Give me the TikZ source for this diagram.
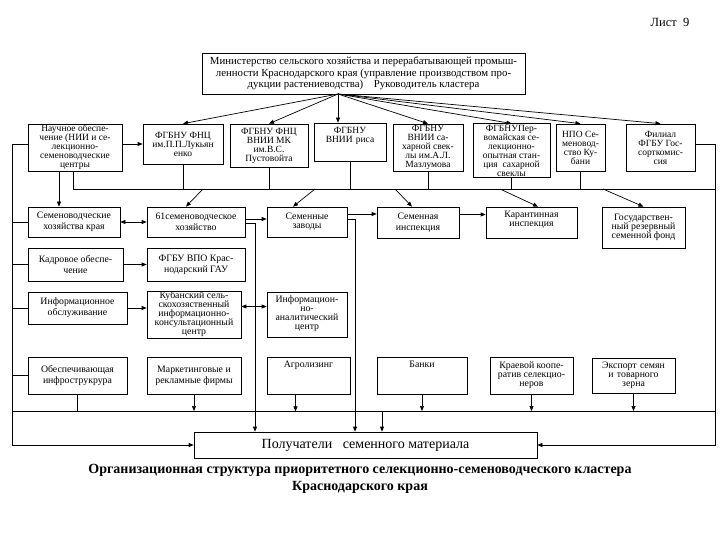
\documentclass[tikz,border=0pt]{standalone}
\usepackage{fontspec}
\setmainfont{Liberation Serif}
\usetikzlibrary{arrows.meta, calc}
\tikzset{
  every picture/.style={line width=0.7pt, x=1pt, y=-1pt},
  box/.style={draw, align=center, inner sep=1pt, font=\fontsize{9.8}{11}\selectfont},
  tight/.style={font=\fontsize{9.8}{9}\selectfont},
  sbox/.style={box, font=\fontsize{9.5}{9}\selectfont},
  tbox/.style={inner ysep=4pt, text height=6.5pt, text depth=#1},
  arrow/.style={-{Triangle[length=5pt, width=4pt]}},
  darrow/.style={{Triangle[length=5pt, width=4pt]}-{Triangle[length=5pt, width=4pt]}},
}
\begin{document}
\begin{tikzpicture}
  \useasboundingbox (0,0) rectangle (720,540);
  \node[font=\fontsize{12.5}{14}\selectfont] (list) at (670,22) {Лист~~9};
  \node[box, minimum width=323, minimum height=41, font=\fontsize{10.8}{11.6}\selectfont] (min) at (363.5,73.5) {Министерство сельского хозяйства и перерабатывающей промыш-\\ленности Краснодарского края (управление производством про-\\дукции растениеводства)\quad Руководитель кластера};
  \coordinate (hub) at (338,94);
  \node[sbox, minimum width=94, minimum height=47] (nauch) at (75,147.5) {Научное обеспе-\\чение (НИИ и се-\\лекционно-\\семеноводческие\\центры};
  \node[sbox, minimum width=80, minimum height=40] (luk) at (183,144) {ФГБНУ ФНЦ\\им.П.П.Лукьян\\енко};
  \node[sbox, minimum width=78, minimum height=43] (pust) at (269,145.5) {ФГБНУ ФНЦ\\ВНИИ МК\\им.В.С.\\Пустовойта};
  \node[sbox, tbox=23.5pt, text width=66, minimum width=72, minimum height=38] (ris) at (350,142) {ФГБНУ\\ВНИИ риса};
  \node[sbox, minimum width=70, minimum height=47] (mazl) at (428,147.5) {ФГБНУ\\ВНИИ са-\\харной свек-\\лы им.А.Л.\\Мазлумова};
  \node[sbox, minimum width=77, minimum height=53] (perv) at (511.5,150.5) {ФГБНУПер-\\вомайская се-\\лекционно-\\опытная стан-\\ция~~сахарной\\свеклы};
  \node[sbox, minimum width=49, minimum height=47] (npo) at (580.5,147.5) {НПО Се-\\меновод-\\ство Ку-\\бани};
  \node[sbox, minimum width=69, minimum height=47] (fil) at (660.5,147.5) {Филиал\\ФГБУ Гос-\\сорткомис-\\сия};
  \node[box, minimum width=92, minimum height=30] (shk) at (74,222) {Семеноводческие\\хозяйства края};
  \node[box, minimum width=98, minimum height=30] (sh61) at (196,222) {61семеноводческое\\хозяйство};
  \node[box, tight, minimum width=80, minimum height=30] (zav) at (307,222) {Семенные\\заводы};
  \node[box, minimum width=82, minimum height=31] (insp) at (418,222.5) {Семенная\\инспекция};
  \node[box, tight, tbox=16.5pt, text width=85, minimum width=91, minimum height=31] (karant) at (531.5,222.5) {Карантинная\\инспекция};
  \node[box, tight, minimum width=83, minimum height=41] (gos) at (643.5,227.5) {Государствен-\\ный резервный\\семенной фонд};
  \node[box, minimum width=95, minimum height=33] (kadr) at (75.5,264.5) {Кадровое обеспе-\\чение};
  \node[box, minimum width=98, minimum height=33] (gau) at (196,264.5) {ФГБУ ВПО Крас-\\нодарский ГАУ};
  \node[box, minimum width=99, minimum height=32] (inf) at (77.5,308) {Информационное\\обслуживание};
  \node[box, tight, minimum width=94, minimum height=45] (kub) at (194,314.5) {Кубанский сель-\\скохозяственный\\информационно-\\консультационный\\центр};
  \node[box, tight, tbox=30.5pt, text width=74, minimum width=80, minimum height=45] (anal) at (307,314.5) {Информацион-\\но-\\аналитический\\центр};
  \node[box, minimum width=99, minimum height=37] (obesp) at (77.5,375.5) {Обеспечивающая\\инфрострукрура};
  \node[box, minimum width=94, minimum height=37] (mark) at (194,375.5) {Маркетинговые и\\рекламные фирмы};
  \node[box, tbox=22.5pt, text width=77, minimum width=83, minimum height=37] (agro) at (308.5,375.5) {Агролизинг};
  \node[box, tbox=22.5pt, text width=84, minimum width=90, minimum height=37] (bank) at (422,375.5) {Банки};
  \node[box, tight, minimum width=83, minimum height=37] (koop) at (531.5,375.5) {Краевой коопе-\\ратив селекцио-\\неров};
  \node[box, tight, tbox=20.5pt, text width=77, minimum width=83, minimum height=35] (eksp) at (633.5,375.5) {Экспорт семян\\и товарного\\зерна};
  \node[box, minimum width=343, minimum height=26, font=\fontsize{14}{16}\selectfont] (poluch) at (365.5,445) {Получатели~~~семенного материала};
  \node[align=center, font=\bfseries\fontsize{14}{17.5}\selectfont] (cap) at (360,479) {Организационная структура приоритетного селекционно-семеноводческого кластера\\Краснодарского края};
  \foreach \n in {luk,pust,mazl,perv,npo,fil} \draw[arrow] (hub) -- (\n.north);
  \draw[arrow] (hub) -- (hub |- ris.north);
  \coordinate (L) at (12,0);
  \coordinate (R) at (715,0);
  \draw[arrow] (nauch.east |- luk) -- (luk.west);
  \draw (nauch.west |- luk) -- (L |- luk);
  \draw[arrow] (L |- luk) -- (L |- poluch) -- (poluch.west);
  \foreach \n in {shk,kadr,inf,obesp} \draw (L |- \n.west) -- (\n.west);
  \draw[arrow] (fil.east |- luk) -- (R |- luk) -- (R |- poluch) -- (poluch.east);
  \coordinate (busA) at (73,189);
  \draw (nauch.south -| busA) -- (busA) -- (busA -| R);
  \foreach \n in {luk,pust,ris,mazl,perv,npo} \draw (\n.south) -- (\n.south |- busA);
  \draw[arrow] ([xshift=-16pt]nauch.south) -- ([xshift=-15pt]shk.north);
  \foreach \x/\n/\s in {203/sh61/-10, 315/zav/-14, 395/insp/-6, 500/karant/6.5, 603/gos/0} {
    \coordinate (d\n) at (\x,189);
    \draw[arrow] (d\n) -- ([xshift=\s pt]\n.north);
  }
  \draw[darrow] (shk.east) -- (sh61.west);
  \draw[arrow] ([yshift=3pt]sh61.east) -- ([yshift=3pt]zav.west);
  \draw[arrow] ([yshift=8pt]zav.east) -- ([yshift=8pt]zav.east -| insp.west);
  \draw[arrow] ([yshift=8pt]insp.east) -- ([yshift=8pt]insp.east -| karant.west);
  \coordinate (v1) at (255,0);
  \coordinate (v2) at (355,0);
  \coordinate (v3) at (382,0);
  \draw[arrow] ([yshift=-1pt]sh61.east) -| (poluch.north -| v1);
  \draw[arrow] ([yshift=3pt]zav.east) -| (poluch.north -| v2);
  \draw[arrow] (kadr.east) -- (kadr.east -| gau.west);
  \draw[arrow] (inf.east) -- (inf.east -| kub.west);
  \draw[darrow] ([yshift=8pt]kub.east) -- ([yshift=8pt]kub.east -| anal.west);
  \coordinate (busB) at (12,411);
  \draw (busB) -- (busB -| R);
  \draw (obesp.south) -- (obesp.south |- busB);
  \foreach \n in {mark,bank,koop,eksp} \draw[arrow] (\n.south) -- (\n.south |- busB);
  \draw[arrow] ([xshift=-13pt]agro.south) -- ++(0,17);
  \draw[arrow] (v3 |- busB) -- (v3 |- poluch.north);
\end{tikzpicture}
\end{document}
